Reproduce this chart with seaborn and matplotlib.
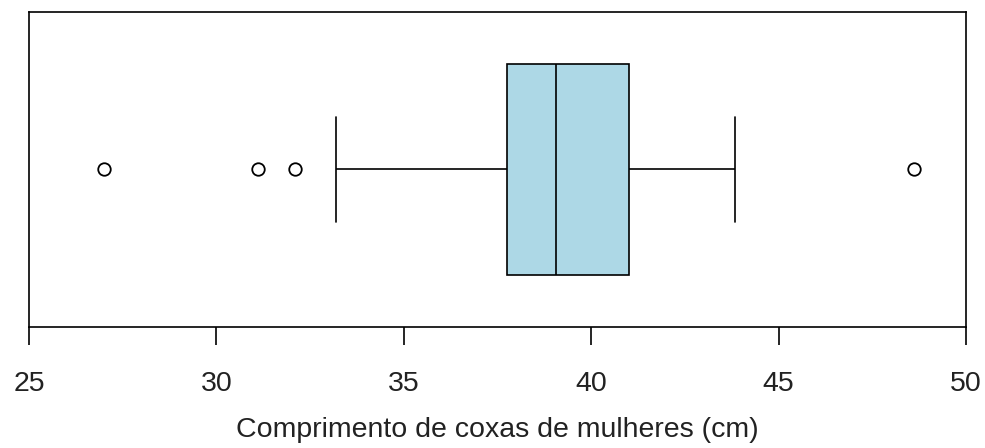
import numpy as np
import pandas as pd
import matplotlib
matplotlib.use("Agg")
import matplotlib.pyplot as plt
import seaborn as sns

# Sample values (whisker ends, quartiles, median, outliers)
outliers = [27.0, 31.1, 32.1, 48.6]
whisker_low = 33.2
q1 = 37.75
median = 39.05
q3 = 41.0
whisker_high = 43.85
between_q1_med = [38.1, 38.4, 38.7]
between_med_q3 = [39.5, 40.0, 40.5]
between_q3_high = [41.9, 42.8]

valores = sorted(outliers + [whisker_low, q1, median, q3, whisker_high]
                 + between_q1_med + between_med_q3 + between_q3_high)
df = pd.DataFrame({"coxa": valores})

x_ticks = [25, 30, 35, 40, 45, 50]

sns.set_theme(style="white")
plt.rcParams["font.family"] = ["Liberation Sans", "DejaVu Sans"]

fig = plt.figure(figsize=(9.85, 4.48), dpi=100)
ax = fig.add_axes([29 / 985, 1 - 327 / 448, 937 / 985, 315 / 448])

sns.boxplot(
    data=df, x="coxa", ax=ax, width=0.67, color="#ADD8E6", saturation=1,
    linecolor="black", linewidth=1.2, fliersize=9,
    flierprops={"marker": "o", "markerfacecolor": "white",
                "markeredgecolor": "black", "markeredgewidth": 1.3},
)

ax.set_xlim(25, 50)
ax.set_ylim(0.5, -0.5)
ax.set_xticks(x_ticks)
ax.set_xticklabels([str(t) for t in x_ticks], fontsize=20.5)
ax.set_yticks([])
ax.tick_params(axis="x", bottom=True, length=13, width=1.2, color="black",
               pad=19, labelcolor="#222222")
for s in ax.spines.values():
    s.set_color("black")
    s.set_linewidth(1.2)
ax.set_xlabel("Comprimento de coxas de mulheres (cm)", fontsize=20.5,
              labelpad=14, color="#222222")
ax.set_ylabel("")

fig.savefig("out.png", dpi=100)
